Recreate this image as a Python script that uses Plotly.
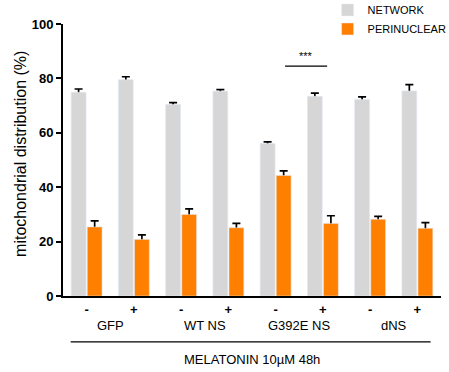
import plotly.graph_objects as go

categories = ["c0", "c1", "c2", "c3", "c4", "c5", "c6", "c7"]
tick_labels = ["-", "+", "-", "+", "-", "+", "-", "+"]
group_labels = ["GFP", "WT NS", "G392E NS", "dNS"]
network = [74.9, 79.5, 70.4, 75.3, 56.1, 73.4, 72.2, 75.4]
network_err = [1.2, 1.1, 0.7, 0.6, 0.6, 1.2, 1.0, 2.3]
perinuclear = [25.4, 20.8, 30.0, 25.1, 44.3, 26.7, 28.2, 24.9]
perinuclear_err = [2.2, 1.7, 2.0, 1.6, 1.7, 2.8, 1.1, 2.1]

FONT = "Liberation Sans, Arial, sans-serif"
GRAY = "#d6d6d6"
ORANGE = "#ff8000"

fig = go.Figure()
# error-bar carriers (symmetric bars; lower half hidden by bars drawn afterwards)
for vals, errs, grp in [(network, network_err, "net"), (perinuclear, perinuclear_err, "per")]:
    fig.add_trace(go.Bar(
        x=categories, y=vals, offsetgroup=grp, showlegend=False, hoverinfo="skip",
        marker=dict(color="rgba(0,0,0,0)"),
        error_y=dict(type="data", array=errs, symmetric=True,
                     color="black", thickness=1.7, width=4),
    ))
fig.add_trace(go.Bar(x=categories, y=network, name="NETWORK", offsetgroup="net",
                     marker=dict(color=GRAY)))
fig.add_trace(go.Bar(x=categories, y=perinuclear, name="PERINUCLEAR", offsetgroup="per",
                     marker=dict(color=ORANGE)))

fig.update_layout(
    width=449, height=372,
    margin=dict(l=63, r=8, t=24, b=76, autoexpand=False),
    plot_bgcolor="white", paper_bgcolor="white",
    barmode="group", bargap=0.32, bargroupgap=0.08,
    font=dict(family=FONT, color="black"),
    legend=dict(x=0.70, y=1.105, xanchor="left", yanchor="top",
                font=dict(size=11, family=FONT), bgcolor="rgba(0,0,0,0)",
                tracegroupgap=0, itemwidth=30),
    showlegend=True,
)
fig.update_xaxes(
    tickmode="array", tickvals=categories, ticktext=tick_labels,
    tickfont=dict(size=13, family=FONT, weight="bold"),
    showline=True, linecolor="black", linewidth=2, ticks="",
    showgrid=False, zeroline=False, automargin=False,
)
fig.update_yaxes(
    range=[0, 100], dtick=20, ticks="outside", ticklen=5, tickwidth=2,
    tickcolor="black", showline=True, linecolor="black", linewidth=2,
    showgrid=False, zeroline=False, automargin=False,
    tickfont=dict(size=13, family=FONT, weight="bold"),
)

# y-axis title
fig.add_annotation(x=-0.114, y=0.522, xref="paper", yref="paper",
                   text="mitochondrial distribution (%)", textangle=-90, showarrow=False,
                   font=dict(size=16, family=FONT), xanchor="center", yanchor="middle")

for i, lab in enumerate(group_labels):
    fig.add_annotation(x=2 * i + 0.5, y=-0.107, xref="x", yref="paper", text=lab,
                       showarrow=False, font=dict(size=13, family=FONT), yanchor="middle")

fig.add_shape(type="line", xref="x", yref="paper", x0=-0.337, x1=7.28, y0=-0.169, y1=-0.169,
              line=dict(color="black", width=1.2))
fig.add_annotation(x=3.49, y=-0.235, xref="x", yref="paper", text="MELATONIN 10µM 48h",
                   showarrow=False, font=dict(size=13, family=FONT), yanchor="middle")

fig.add_shape(type="line", xref="x", yref="y", x0=4.2, x1=5.09, y0=84.5, y1=84.5,
              line=dict(color="black", width=1.2))
fig.add_annotation(x=4.64, y=85.2, xref="x", yref="y", text="***", showarrow=False,
                   font=dict(size=11, family=FONT), yanchor="bottom")

fig.write_html("out.html", config={"displayModeBar": False},
               post_script="document.body.style.margin='0';")
